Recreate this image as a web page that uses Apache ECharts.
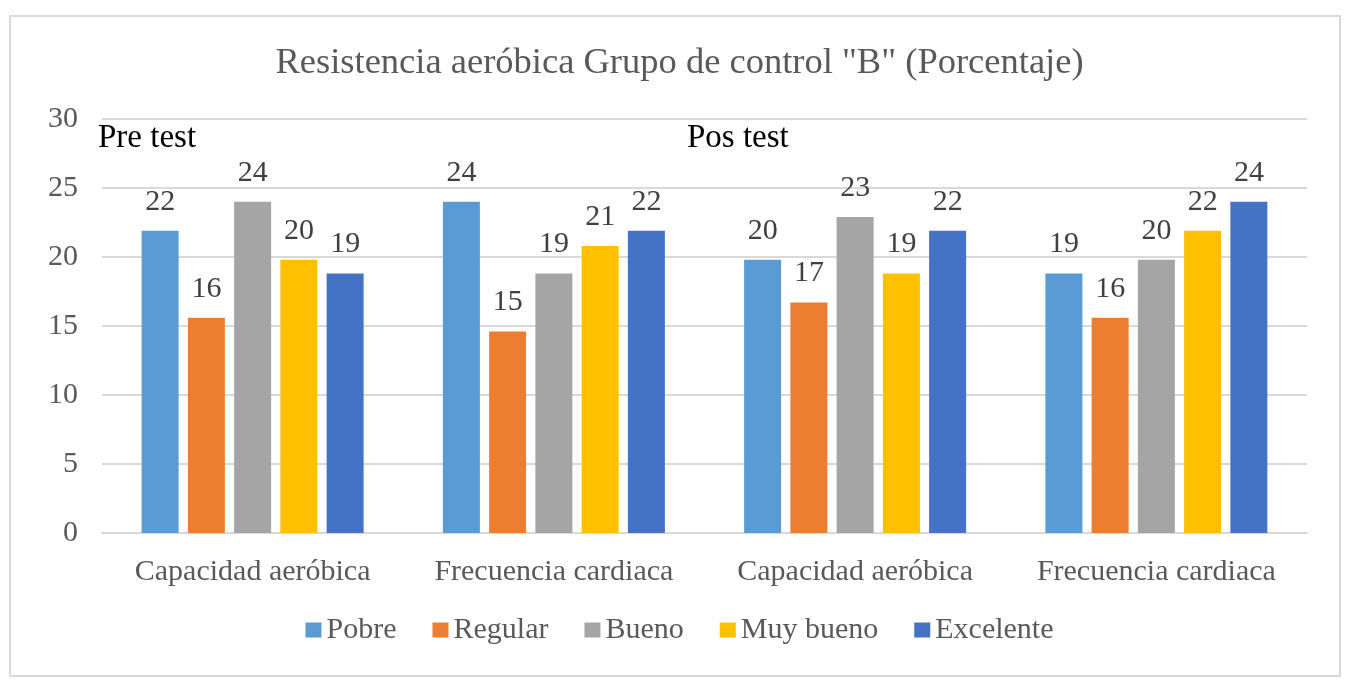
<!DOCTYPE html>
<html><head><meta charset="utf-8">
<script src="https://cdn.jsdelivr.net/npm/echarts@6/dist/echarts.min.js"></script>
<style>html,body{margin:0;padding:0;background:#fff}#c{width:1359px;height:692px}</style>
</head><body><div id="c"></div>
<script>
var categories = ['Capacidad aeróbica','Frecuencia cardiaca','Capacidad aeróbica','Frecuencia cardiaca'];
var seriesNames = ['Pobre','Regular','Bueno','Muy bueno','Excelente'];
var pobre = [21.9, 24.0, 19.8, 18.8];
var regular = [15.6, 14.6, 16.7, 15.6];
var bueno = [24.0, 18.8, 22.9, 19.8];
var muyBueno = [19.8, 20.8, 18.8, 21.9];
var excelente = [18.8, 21.9, 21.9, 24.0];
var yTicks = [0, 5, 10, 15, 20, 25, 30];
var colors = ['#5B9BD5','#ED7D31','#A5A5A5','#FFC000','#4472C4'];
var values = [pobre, regular, bueno, muyBueno, excelente];
var font = 'Liberation Serif, Times New Roman, serif';

var chart = echarts.init(document.getElementById('c'));
chart.setOption({
  animation: false,
  title: {text: 'Resistencia aeróbica Grupo de control "B" (Porcentaje)', left: 'center', top: 40,
    textStyle: {fontFamily: font, fontSize: 36.5, fontWeight: 'normal', color: '#595959'}},
  legend: {bottom: 42, left: 'center', itemWidth: 16, itemHeight: 15, itemGap: 36, icon: 'rect',
    textStyle: {fontFamily: font, fontSize: 30, color: '#595959'},
    data: seriesNames},
  grid: {left: 102, right: 52, top: 119, bottom: 159},
  xAxis: {type: 'category', data: categories,
    axisLine: {lineStyle: {color: '#d9d9d9', width: 2}}, axisTick: {show: false},
    axisLabel: {interval: 0, fontFamily: font, fontSize: 30, color: '#595959', margin: 24}},
  yAxis: {type: 'value', min: yTicks[0], max: yTicks[yTicks.length-1], interval: 5,
    axisLine: {show: false}, axisTick: {show: false},
    splitLine: {lineStyle: {color: '#d9d9d9', width: 2}},
    axisLabel: {fontFamily: font, fontSize: 30, color: '#595959', margin: 24}},
  graphic: [
    {type: 'rect', shape: {x: 10, y: 16, width: 1330, height: 660}, style: {fill: 'none', stroke: '#d9d9d9', lineWidth: 2}, z: -1},
    {type: 'text', left: 98, top: 122, style: {text: 'Pre test', fontFamily: font, fontSize: 33, fill: '#000'}},
    {type: 'text', left: 687, top: 122, style: {text: 'Pos test', fontFamily: font, fontSize: 33, fill: '#000'}}
  ],
  series: seriesNames.map(function(n, i){
    return {name: n, type: 'bar', data: values[i], barWidth: 37, barGap: '25%',
      itemStyle: {color: colors[i]},
      label: {show: true, position: 'top', distance: 14, fontFamily: font, fontSize: 30, color: '#404040',
        formatter: function(p){ return Math.round(p.value); }}};
  })
});
</script></body></html>
